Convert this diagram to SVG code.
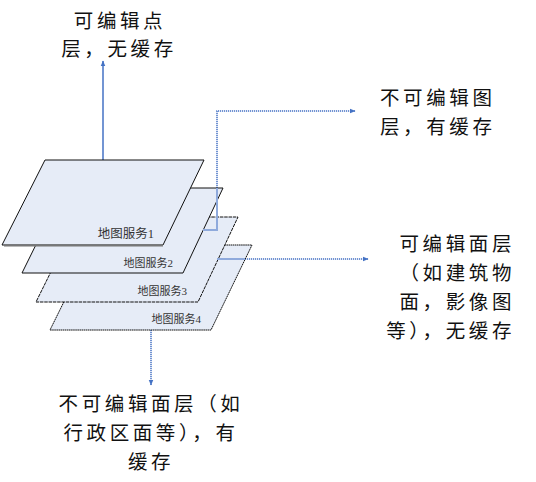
<svg xmlns="http://www.w3.org/2000/svg" width="536" height="482" viewBox="0 0 536 482">
<style>
.t{font-family:"Noto Sans CJK SC","Noto Sans",sans-serif;font-size:19.5px;letter-spacing:3.6px;fill:#111}
.lbl{font-family:"Liberation Serif","Noto Sans CJK SC",serif;fill:#333}
.pg{fill:#E6ECF7;stroke:#111;stroke-width:1}
.c{fill:none;stroke:#4472C4;stroke-width:1.5}
.d{stroke-dasharray:1.2 0.8}
.lt{fill:none;stroke:#8FAADC;stroke-width:2}
</style>
<defs>
<marker id="ah" viewBox="0 0 10 10" refX="9" refY="5" markerWidth="6" markerHeight="6" orient="auto" markerUnits="userSpaceOnUse">
<path d="M0,1 L10,5 L0,9 Z" fill="#4472C4"/>
</marker>
</defs>
<g id="connectors">
<path class="c" d="M103,160 V61" marker-end="url(#ah)"/>
<path class="c d" d="M217,188 V111 H355" marker-end="url(#ah)"/>
<path class="c d" d="M245,259 H368" marker-end="url(#ah)"/>
<path class="c d" d="M151,330 V385" marker-end="url(#ah)"/>
</g>
<g id="layer4">
<polygon class="pg" points="92,245 252,245 211,330 50,330" stroke="#000" stroke-width="1.2" stroke-dasharray="1.6 0.5"/>
<text class="lbl" x="201" y="323" font-size="11" text-anchor="end">地图服务4</text>
</g>
<g id="layer3">
<polygon class="pg" points="78,217 238,217 198,302 36,302" stroke="#000" stroke-width="1.2" stroke-dasharray="3.5 0.8"/>
<text class="lbl" x="187" y="295" font-size="11" text-anchor="end">地图服务3</text>
</g>
<g id="layer2">
<polygon class="pg" points="64,188 223,188 183,273 22,273"/>
<text class="lbl" x="173" y="267" font-size="11" text-anchor="end">地图服务2</text>
</g>
<g id="layer1">
<polygon class="pg" points="45,160 204,160 163,245 2,245"/>
<line x1="4" y1="245.5" x2="163" y2="245.5" stroke="#777" stroke-width="2"/>
<text class="lbl" x="154" y="238" font-size="12.5" text-anchor="end">地图服务1</text>
</g>
<g id="connector-overlays">
<path class="lt" d="M203,230 H217 V188"/>
<path class="lt" d="M217,259 H245"/>
</g>
<g id="label-top">
<text class="t" x="120" y="28" text-anchor="middle">可编辑点</text>
<text class="t" x="119" y="56" text-anchor="middle">层，无缓存</text>
</g>
<g id="label-right-top">
<text class="t" x="380" y="105">不可编辑图</text>
<text class="t" x="380" y="134">层，有缓存</text>
</g>
<g id="label-right">
<text class="t" x="515" y="251" text-anchor="end">可编辑面层</text>
<text class="t" x="515" y="280" text-anchor="end">（如建筑物</text>
<text class="t" x="515" y="309" text-anchor="end">面，影像图</text>
<text class="t" x="515" y="338" text-anchor="end">等），无缓存</text>
</g>
<g id="label-bottom">
<text class="t" x="151" y="411" text-anchor="middle">不可编辑面层（如</text>
<text class="t" x="151" y="440" text-anchor="middle">行政区面等），有</text>
<text class="t" x="151" y="469" text-anchor="middle">缓存</text>
</g>
</svg>
